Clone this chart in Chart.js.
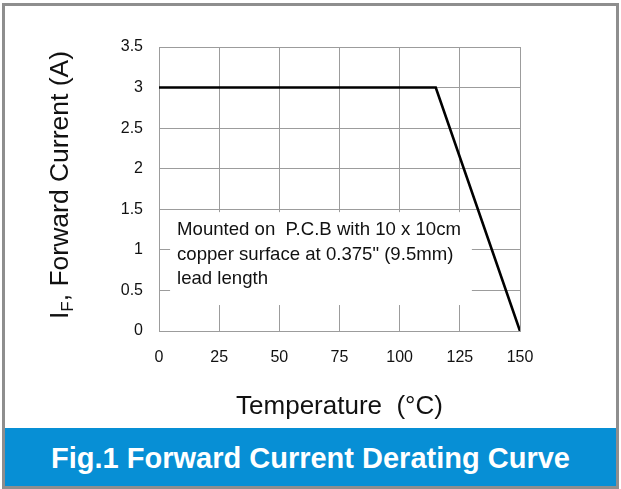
<!DOCTYPE html>
<html>
<head>
<meta charset="utf-8">
<script src="https://cdn.jsdelivr.net/npm/chart.js@4.4.1/dist/chart.umd.min.js"></script>
<style>
  body { margin: 0; background: #fff; }
  #wrap { position: relative; width: 621px; height: 489px; overflow: hidden; }
  #chart { position: absolute; left: 0; top: 0; }
  #frame {
    position: absolute; left: 2px; top: 3px; width: 617px; height: 486px;
    box-sizing: border-box; border: 3px solid #8e8e8e; pointer-events: none;
  }
  #banner {
    position: absolute; left: 5px; top: 428px; width: 611px; height: 58px;
    background: #078fd5; color: #fff; text-align: center;
    font: bold 29px "Liberation Sans", Arial, sans-serif; line-height: 61px;
  }
</style>
</head>
<body>
<div id="wrap">
  <canvas id="chart" width="621" height="489"></canvas>
  <div id="banner">Fig.1 Forward Current Derating Curve</div>
  <div id="frame"></div>
</div>
<script>
// derating curve
const temps = [0, 115, 150];
const currents = [3, 3, 0];
const xTickValues = [0, 25, 50, 75, 100, 125, 150];
const yTickValues = [0, 0.5, 1, 1.5, 2, 2.5, 3, 3.5];
const noteLines = [
  'Mounted on  P.C.B with 10 x 10cm',
  'copper surface at 0.375" (9.5mm)',
  'lead length'
];

const fontFamily = '"Liberation Sans", Arial, sans-serif';
const gridColor = '#9c9c9c';

function showDeratingChart()
{
    const ctx = document.getElementById('chart').getContext('2d');

    const points = [];
    for (let i = 0; i < temps.length; i++)
    {
        points.push({ x: temps[i], y: currents[i] });
    }

    // white note box over the grid, placed in data units
    const notePlugin = {
        id: 'note',
        beforeDatasetsDraw(chart) {
            const x = chart.scales.x;
            const y = chart.scales.y;
            const c = chart.ctx;
            const left = x.getPixelForValue(4.6);
            const right = x.getPixelForValue(130);
            const top = y.getPixelForValue(1.465);
            const bottom = y.getPixelForValue(0.32);
            c.save();
            c.fillStyle = '#fff';
            c.fillRect(left, top, right - left, bottom - top);
            c.fillStyle = '#111';
            c.font = '18.6px ' + fontFamily;
            c.textBaseline = 'middle';
            c.textAlign = 'left';
            for (let i = 0; i < noteLines.length; i++)
            {
                c.fillText(noteLines[i], x.getPixelForValue(7.5), y.getPixelForValue(1.245) + i * 24.5);
            }
            c.restore();
        }
    };

    // y title needs a subscript, so draw it by hand
    const yTitlePlugin = {
        id: 'yTitle',
        afterDraw(chart) {
            const c = chart.ctx;
            const area = chart.chartArea;
            const big = '26.5px ' + fontFamily;
            const small = '17px ' + fontFamily;
            const rest = ', Forward Current (A)';
            c.save();
            c.font = big;
            const wI = c.measureText('I').width;
            const wRest = c.measureText(rest).width;
            c.font = small;
            const wF = c.measureText('F').width;
            const total = wI + wF + wRest;
            c.translate(68, (area.top + area.bottom) / 2 - 4);
            c.rotate(-Math.PI / 2);
            c.fillStyle = '#111';
            c.textBaseline = 'alphabetic';
            c.textAlign = 'left';
            let pos = -total / 2;
            c.font = big;
            c.fillText('I', pos, 0);
            pos += wI;
            c.font = small;
            c.fillText('F', pos, 5);
            pos += wF;
            c.font = big;
            c.fillText(rest, pos, 0);
            c.restore();
        }
    };

    const myChart = new Chart(ctx, {
        type: 'line',
        data: {
            datasets: [{
                label: 'IF',
                data: points,
                borderColor: '#000',
                borderWidth: 2.6,
                pointRadius: 0,
                tension: 0,
                fill: false
            }]
        },
        options: {
            responsive: false,
            animation: false,
            layout: { padding: { left: 119, right: 101, top: 47, bottom: 67 } },
            plugins: {
                legend: { display: false },
                tooltip: { enabled: false }
            },
            scales: {
                x: {
                    type: 'linear',
                    min: 0,
                    max: 150,
                    afterBuildTicks: (scale) => { scale.ticks = xTickValues.map(v => ({ value: v })); },
                    afterFit: (scale) => { scale.height = 91; },
                    grid: { color: gridColor, drawTicks: false, lineWidth: 1 },
                    border: { color: gridColor },
                    ticks: {
                        padding: 17,
                        color: '#111',
                        font: { family: fontFamily, size: 16 },
                        maxRotation: 0,
                        callback: (v) => String(v)
                    },
                    title: {
                        display: true,
                        text: 'Temperature  (°C)',
                        color: '#111',
                        padding: 0,
                        font: { family: fontFamily, size: 26 }
                    }
                },
                y: {
                    min: 0,
                    max: 3.5,
                    afterBuildTicks: (scale) => { scale.ticks = yTickValues.map(v => ({ value: v })); },
                    afterFit: (scale) => { scale.width = 40; },
                    grid: { color: gridColor, drawTicks: false, lineWidth: 1 },
                    border: { color: gridColor },
                    ticks: {
                        padding: 16,
                        color: '#111',
                        font: { family: fontFamily, size: 16 },
                        callback: (v) => String(v)
                    }
                }
            }
        },
        plugins: [notePlugin, yTitlePlugin]
    });
}

showDeratingChart();
</script>
</body>
</html>
